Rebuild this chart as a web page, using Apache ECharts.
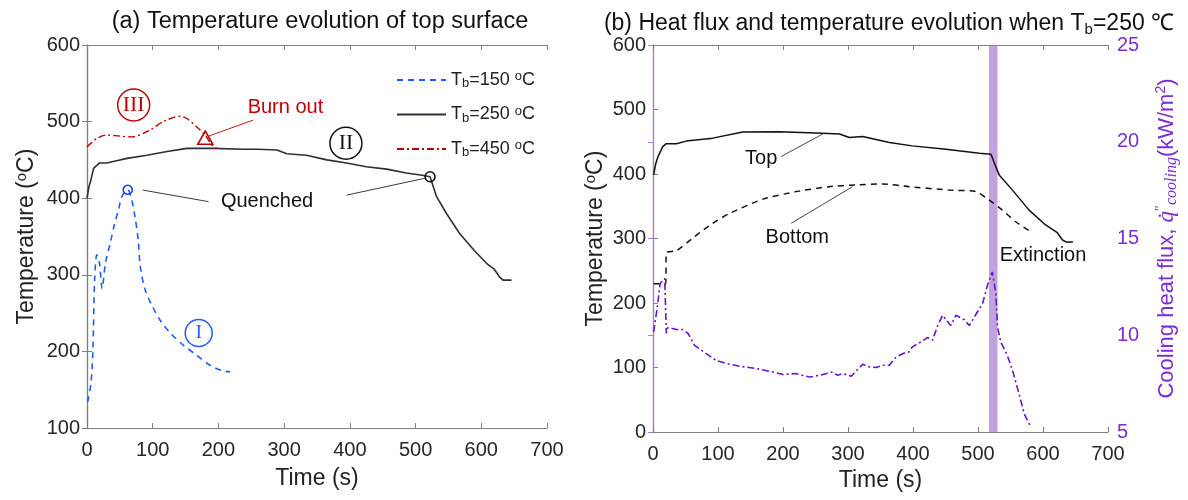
<!DOCTYPE html>
<html>
<head>
<meta charset="utf-8">
<script src="https://cdn.jsdelivr.net/npm/echarts@6/dist/echarts.min.js"></script>
<style>
  html, body { margin: 0; padding: 0; background: #fff; }
  #chart { width: 1188px; height: 500px; }
</style>
</head>
<body>
<div id="chart"></div>
<script>
// (a) top surface temperature, three base temperatures
var t150 = [1, 6, 9, 11.6, 15, 19, 23, 28, 35, 41.5, 48, 53, 62, 68, 73, 78, 81, 88.6, 98.8, 111, 126.6, 146.8, 167, 187, 207.6, 218];
var T150 = [134, 158, 202, 293, 326, 315, 282, 315, 340, 365, 385, 402, 411, 398, 376, 345, 311, 280, 260, 241, 224, 208, 195, 182, 174.4, 173.5];

var t250 = [0, 3, 6, 10, 19, 30, 45, 61, 91, 122, 152, 192, 238, 260, 289, 304, 334, 365, 395, 425, 456, 486, 510, 522, 527, 532, 547, 567, 590, 608, 620, 628, 633, 646];
var T250 = [400, 415, 424, 439, 446, 446, 449, 452, 456, 461, 465, 465, 464, 464, 463, 458, 456, 450, 446, 441, 438, 433, 430, 428, 415, 402, 380, 354, 331, 315, 307, 297, 293, 293];

var t450 = [0, 15, 30, 50, 68, 96, 116, 142, 152, 167, 180, 190, 198];
var T450 = [467, 478, 482.5, 481, 480, 489, 500, 507, 504, 493, 482, 469.5, 465];

// (b) Tb = 250 C: top / bottom temperature and cooling heat flux
var tTop = [1, 4, 7.7, 15, 20.5, 36, 51, 92, 138, 194.6, 261, 287, 302, 322.6, 363.6, 399, 450.7, 502, 520, 527.5, 532.6, 553, 578.6, 604, 622, 630, 636, 646];
var TTop = [398.6, 415, 427, 442.5, 447, 447, 451, 455.6, 465, 465.4, 463, 462, 456.5, 458, 449, 443.6, 438.5, 432, 430.7, 411, 398.6, 375, 344, 321, 309, 297.7, 294.5, 294.5];

var tBottom = [1, 19.5, 20.5, 36, 64, 92, 118, 169, 220, 271, 312, 353, 394, 455.7, 496.7, 517, 537.6, 558, 581];
var TBottom = [230, 230, 278, 281, 303, 323.6, 339, 361, 372.7, 380.4, 383, 384.6, 380.4, 375, 372.7, 359.8, 344, 326, 310.6];

var tQ = [1, 6, 11, 18, 20, 20.5, 23, 36, 46, 54, 64, 82, 97, 113, 133, 159, 184, 200, 220, 241, 256, 276.5, 284, 292, 305, 322.6, 333, 343, 353, 363.6, 374, 386.6, 394, 399, 412, 422, 430, 438, 445.5, 458, 466, 479, 486.5, 499, 507, 514.6, 522, 527.5, 530, 535, 545, 553, 563, 571, 581];
var Q = [10.17, 11.3, 12.67, 12.93, 12.9, 10.1, 10.4, 10.3, 10.3, 10.09, 9.48, 9.05, 8.7, 8.54, 8.4, 8.28, 8.1, 7.97, 8.02, 7.84, 7.93, 8.1, 7.93, 8.02, 7.88, 8.5, 8.36, 8.33, 8.45, 8.45, 8.88, 9.08, 9.14, 9.4, 9.65, 9.88, 9.74, 10.5, 11.03, 10.5, 11.03, 10.8, 10.5, 11.2, 11.64, 12.59, 13.27, 12.16, 10.43, 9.65, 8.97, 8.19, 6.99, 5.95, 5.26];

var extinction = [517, 530];

function pairs(xs, ys) {
  return xs.map(function (x, i) { return [x, ys[i]]; });
}

var FONT = 'Liberation Sans, Arial, sans-serif';
var FRAME = '#808080';
var PURPLE = '#7b2fd0';
var richT = {
  a: { fontSize: 23, fontFamily: FONT, color: '#222', lineHeight: 26 },
  p: { fontSize: 15, fontFamily: FONT, color: '#222', lineHeight: 14, verticalAlign: 'top' },
  s: { fontSize: 15, fontFamily: FONT, color: '#222', lineHeight: 14, verticalAlign: 'bottom' }
};

function frameX(grid, pos, showLabel, name, gap) {
  return {
    type: 'value', gridIndex: grid, position: pos, min: 0, max: 700, interval: 100,
    axisLine: { show: true, lineStyle: { color: FRAME, width: 1.2 } },
    axisTick: { show: true, inside: true, length: 5, lineStyle: { color: FRAME } },
    axisLabel: { show: showLabel, fontSize: 20, fontFamily: FONT, color: '#262626', margin: 12 },
    splitLine: { show: false },
    name: name, nameLocation: 'middle', nameGap: gap,
    nameTextStyle: { fontSize: 23, fontFamily: FONT, color: '#222' }
  };
}
function frameY(grid, pos, min, max, showLabel, nameGap) {
  return {
    type: 'value', gridIndex: grid, position: pos, min: min, max: max, interval: 100,
    axisLine: { show: true, lineStyle: { color: FRAME, width: 1.2 } },
    axisTick: { show: true, inside: true, length: 5, lineStyle: { color: FRAME } },
    axisLabel: { show: showLabel, fontSize: 20, fontFamily: FONT, color: '#262626', margin: 7 },
    splitLine: { show: false },
    name: showLabel ? '{a|Temperature (}{p|o}{a|C)}' : '',
    nameLocation: 'middle', nameGap: nameGap,
    nameTextStyle: { rich: richT }
  };
}

function textPoint(coord, text, color) {
  return {
    coord: coord, symbol: 'circle', symbolSize: 1,
    itemStyle: { color: 'rgba(0,0,0,0)' },
    label: { show: true, position: 'inside', formatter: text, fontSize: 20, fontFamily: FONT, color: color }
  };
}
function roman(coord, text, color, size) {
  return {
    coord: coord, symbol: 'circle', symbolSize: size,
    itemStyle: { color: 'rgba(0,0,0,0)', borderColor: color, borderWidth: 1.5 },
    label: { show: true, position: 'inside', formatter: text, fontSize: size * 0.68, fontFamily: 'Liberation Serif, Times New Roman, serif', color: color }
  };
}
function hollow(coord, symbol, size, color) {
  return {
    coord: coord, symbol: symbol, symbolSize: size,
    itemStyle: { color: 'rgba(0,0,0,0)', borderColor: color, borderWidth: 1.6 },
    label: { show: false }
  };
}
function leaders(list, color) {
  return {
    silent: true, symbol: ['none', 'none'], animation: false,
    label: { show: false },
    lineStyle: { color: color, width: 0.9, type: 'solid' },
    data: list.map(function (l) { return [{ coord: l[0] }, { coord: l[1] }]; })
  };
}

var legendNames = { Tb150: '150', Tb250: '250', Tb450: '450' };

var chart = echarts.init(document.getElementById('chart'));
chart.setOption({
  animation: false,
  backgroundColor: '#fff',
  title: [
    { text: '(a) Temperature evolution of top surface', left: 315, top: 5, textAlign: 'center',
      textStyle: { fontSize: 23.5, fontWeight: 'normal', fontFamily: FONT, color: '#111' } },
    { text: '{a|(b) Heat flux and temperature evolution when T}{s|b}{a|=250 ℃}', left: 884, top: 5, textAlign: 'center',
      textStyle: { fontWeight: 'normal', rich: {
        a: { fontSize: 23, fontWeight: 'normal', fontFamily: FONT, color: '#111', lineHeight: 27 },
        s: { fontSize: 15, fontWeight: 'normal', fontFamily: FONT, color: '#111', lineHeight: 12, verticalAlign: 'bottom' } } } }
  ],
  legend: {
    data: ['Tb150', 'Tb250', 'Tb450'],
    orient: 'vertical', left: 391, top: 65,
    itemWidth: 49, itemHeight: 20, itemGap: 14.5,
    itemStyle: { opacity: 0 },
    formatter: function (n) { return '{a|T}{s|b}{a|=' + legendNames[n] + ' }{p|o}{a|C}'; },
    textStyle: { rich: {
      a: { fontSize: 18, fontFamily: FONT, color: '#222', lineHeight: 20 },
      p: { fontSize: 13, fontFamily: FONT, color: '#222', lineHeight: 10, verticalAlign: 'top' },
      s: { fontSize: 13, fontFamily: FONT, color: '#222', lineHeight: 10, verticalAlign: 'bottom' } } }
  },
  grid: [
    { left: 87, top: 45, width: 460, height: 383 },
    { left: 653, top: 45, width: 455, height: 387 }
  ],
  xAxis: [
    frameX(0, 'bottom', true, 'Time (s)', 39),
    frameX(0, 'top', false, '', 0),
    frameX(1, 'bottom', true, 'Time (s)', 35),
    frameX(1, 'top', false, '', 0)
  ],
  yAxis: [
    frameY(0, 'left', 100, 600, true, 47),
    frameY(0, 'right', 100, 600, false, 0),
    frameY(1, 'left', 0, 600, true, 44),
    {
      type: 'value', gridIndex: 1, position: 'right', min: 5, max: 25, interval: 5,
      axisLine: { show: true, lineStyle: { color: '#a47ce0', width: 1.2 } },
      axisTick: { show: true, inside: true, length: 5, lineStyle: { color: '#a47ce0' } },
      axisLabel: { fontSize: 20, fontFamily: FONT, color: PURPLE, margin: 9 },
      splitLine: { show: false },
      name: '{a|Cooling heat flux, }{q|q̇}{pp|″}{s|cooling}{a|(kW/m}{p|2}{a|)}',
      nameLocation: 'middle', nameGap: 46,
      nameTextStyle: { rich: {
        a: { fontSize: 22, fontFamily: FONT, color: PURPLE, lineHeight: 26 },
        q: { fontSize: 23, fontFamily: 'Liberation Serif, serif', fontStyle: 'italic', color: PURPLE, lineHeight: 26 },
        pp: { fontSize: 14, fontFamily: 'Liberation Serif, serif', color: PURPLE, lineHeight: 12, verticalAlign: 'top' },
        s: { fontSize: 16, fontFamily: 'Liberation Serif, serif', fontStyle: 'italic', color: PURPLE, lineHeight: 12, verticalAlign: 'bottom' },
        p: { fontSize: 14, fontFamily: FONT, color: PURPLE, lineHeight: 12, verticalAlign: 'top' } } }
    }
  ],
  series: [
    {
      name: 'Tb150', type: 'line', xAxisIndex: 0, yAxisIndex: 0, symbol: 'none', smooth: 0.3,
      data: pairs(t150, T150),
      lineStyle: { color: '#1f5cff', width: 1.6, type: [6, 5] },
      itemStyle: { color: '#1f5cff' },
      markPoint: { data: [hollow([62, 411], 'circle', 9, '#1f3cff'), roman([170, 224], 'I', '#1f5cff', 27)] },
      markLine: leaders([[[85, 410.6], [185, 395.5]]], '#222')
    },
    {
      name: 'Tb250', type: 'line', xAxisIndex: 0, yAxisIndex: 0, symbol: 'none',
      data: pairs(t250, T250),
      lineStyle: { color: '#2b2f3c', width: 1.6 },
      itemStyle: { color: '#2b2f3c' },
      markPoint: { data: [
        hollow([522, 428], 'circle', 10, '#111'),
        roman([394, 471.7], 'II', '#111', 32),
        textPoint([274, 395.4], 'Quenched', '#111')
      ] },
      markLine: leaders([[[395, 404], [514, 426]]], '#222')
    },
    {
      name: 'Tb450', type: 'line', xAxisIndex: 0, yAxisIndex: 0, symbol: 'none', smooth: 0.3,
      data: pairs(t450, T450),
      lineStyle: { color: '#c00000', width: 1.4, type: [7, 3, 2, 3] },
      itemStyle: { color: '#c00000' },
      markPoint: { data: [
        hollow([180, 479], 'triangle', [15, 13], '#c00000'),
        roman([71, 521.7], 'III', '#c00000', 32),
        textPoint([302, 517.8], 'Burn out', '#c00000')
      ] },
      markLine: leaders([[[253, 502], [185, 481]]], '#c00000')
    },
    {
      name: 'Top', type: 'line', xAxisIndex: 2, yAxisIndex: 2, symbol: 'none',
      data: pairs(tTop, TTop),
      lineStyle: { color: '#111', width: 1.5 },
      markPoint: { data: [textPoint([166.5, 424.5], 'Top', '#111')] },
      markLine: leaders([[[197, 427], [263.7, 463.4]]], '#333')
    },
    {
      name: 'Bottom', type: 'line', xAxisIndex: 2, yAxisIndex: 2, symbol: 'none', smooth: 0.2,
      data: pairs(tBottom, TBottom),
      lineStyle: { color: '#111', width: 1.5, type: [6, 5] },
      markPoint: { data: [textPoint([222, 301.9], 'Bottom', '#111'), textPoint([600, 274.4], 'Extinction', '#111')] },
      markLine: leaders([[[212.6, 323.6], [307, 380.4]]], '#333')
    },
    {
      name: 'Heat flux', type: 'line', xAxisIndex: 2, yAxisIndex: 3, symbol: 'none',
      data: pairs(tQ, Q),
      lineStyle: { color: '#6a12cc', width: 1.6, type: [7, 3, 2, 3] },
      markArea: {
        silent: true,
        itemStyle: { color: 'rgba(160,110,205,0.65)' },
        data: [[{ xAxis: extinction[0] }, { xAxis: extinction[1] }]]
      }
    }
  ]
});
</script>
</body>
</html>
